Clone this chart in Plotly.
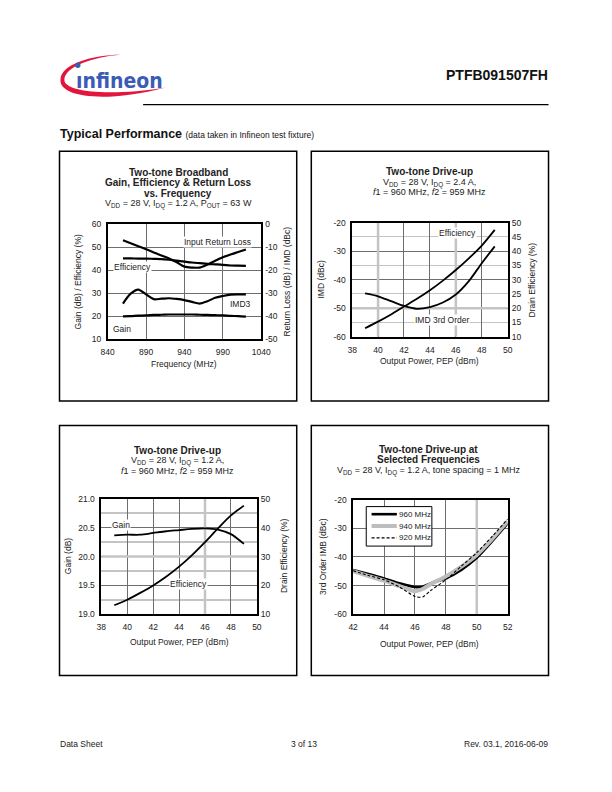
import plotly.graph_objects as go

W, H = 612, 792
FONT = "Liberation Sans, Arial, sans-serif"
GRID_DARK = "#6e6e6e"
GRID_LIGHT = "#c4c4c4"

# ---- panel 1: broadband vs frequency ----
freq_mhz = [860, 870, 880, 890, 900, 910, 920, 930, 940, 950, 960, 970, 980, 990, 1000, 1010, 1020]
bb_gain_db = [19.9, 20.0, 20.2, 20.3, 20.5, 20.6, 20.7, 20.7, 20.7, 20.7, 20.6, 20.5, 20.4, 20.3, 20.1, 20.0, 19.8]
bb_eff_pct = [45.2, 45.2, 45.1, 45.1, 45.0, 44.9, 44.6, 44.2, 43.8, 43.4, 43.1, 42.8, 42.6, 42.4, 42.1, 42.0, 41.9]
bb_irl_db = [-6.9, -8.2, -9.5, -10.8, -12.2, -13.5, -14.8, -16.5, -18.4, -18.8, -18.8, -17.5, -15.8, -14.3, -13.1, -12.0, -10.9]
bb_imd3_dbc = [-34.5, -30.2, -28.4, -30.5, -32.6, -32.4, -32.2, -32.5, -33.0, -33.8, -34.5, -33.5, -32.0, -31.2, -30.6, -30.5, -30.5]
rl_ticks = [0, -10, -20, -30, -40, -50]

# ---- panel 2: drive-up, IDQ = 2.4 A ----
pout_a = [39, 40, 41, 42, 43, 44, 45, 46, 47, 48, 49]
du_a_eff_pct = [13.0, 15.3, 17.8, 20.6, 23.3, 26.3, 29.7, 33.4, 37.5, 42.0, 47.5]
du_a_imd_dbc = [-44.8, -45.8, -47.5, -49.2, -50.2, -49.6, -48.0, -45.2, -40.5, -34.2, -28.3]
imd_ticks = [-20, -30, -40, -50, -60]

# ---- panel 3: drive-up, IDQ = 1.2 A ----
pout_b = [39, 40, 41, 42, 43, 44, 45, 46, 47, 48, 49]
du_b_gain_db = [20.37, 20.38, 20.38, 20.41, 20.44, 20.46, 20.48, 20.49, 20.47, 20.39, 20.22]
du_b_eff_pct = [13.1, 15.0, 17.4, 20.0, 23.0, 26.5, 30.5, 35.0, 39.8, 44.3, 47.7]

# ---- panel 4: IMD at selected frequencies ----
pout_c = [42, 43, 44, 45, 46, 46.5, 47, 48, 49, 50, 51, 52]
imd_960 = [-44.6, -46.0, -47.5, -49.2, -50.5, -50.4, -49.3, -47.5, -44.5, -40.3, -34.5, -28.3]
imd_940 = [-45.0, -46.7, -48.3, -50.2, -52.0, -51.2, -49.5, -46.8, -43.4, -39.3, -33.7, -27.5]
imd_920 = [-44.8, -46.5, -48.0, -50.5, -53.8, -54.0, -51.8, -48.0, -43.2, -38.5, -32.8, -26.8]
tone_labels = ["960 MHz", "940 MHz", "920 MHz"]


def px(x):
    return x / W


def py(y):
    return 1 - y / H


def dom_x(a, b):
    return [px(a), px(b)]


def dom_y(top, bottom):
    return [py(bottom), py(top)]


def hyphen_ticks(vals):
    # datasheet uses a plain hyphen rather than a unicode minus
    return dict(tickmode="array", tickvals=vals, ticktext=[str(v) for v in vals])


TICK_FONT = dict(family=FONT, size=8.5, color="#222")


def xaxis(domain, rng, dtick, anchor):
    return dict(domain=domain, range=rng, dtick=dtick, tick0=rng[0], anchor=anchor,
                showline=True, mirror=True, linecolor="black", linewidth=1.5,
                showgrid=True, gridcolor=GRID_DARK, gridwidth=1, zeroline=False,
                ticks="", tickfont=TICK_FONT, ticklabelstandoff=4)


def yaxis(domain, rng, dtick, anchor, **kw):
    d = dict(domain=domain, range=rng, dtick=dtick, anchor=anchor,
             showline=True, mirror=True, linecolor="black", linewidth=1.5,
             showgrid=True, gridcolor=GRID_DARK, gridwidth=1, zeroline=False,
             ticks="", tickfont=TICK_FONT, ticklabelstandoff=3)
    d.update(kw)
    return d


def yaxis_right(rng, dtick, anchor, overlay, **kw):
    d = dict(range=rng, dtick=dtick, anchor=anchor, overlaying=overlay, side="right",
             showline=False, showgrid=False, zeroline=False, ticks="",
             tickfont=TICK_FONT, ticklabelstandoff=3)
    d.update(kw)
    return d


BLACK = dict(color="black", width=2.2, shape="spline", smoothing=0.8)
THIN = dict(color="black", width=1.8, shape="spline", smoothing=0.8)
TONE_LINES = [dict(color="black", width=2.6, shape="spline", smoothing=0.6),
              dict(color="#bdbdbd", width=4, shape="spline", smoothing=0.6),
              dict(color="black", width=1.1, dash="3px,2px", shape="spline", smoothing=0.6)]

fig = go.Figure()

# panel 1
for ys, ax in [(bb_gain_db, "y"), (bb_eff_pct, "y"), (bb_irl_db, "y2"), (bb_imd3_dbc, "y2")]:
    fig.add_trace(go.Scatter(x=freq_mhz, y=ys, xaxis="x", yaxis=ax, line=BLACK, mode="lines"))

# panel 2
fig.add_trace(go.Scatter(x=pout_a, y=du_a_imd_dbc, xaxis="x2", yaxis="y3", line=THIN, mode="lines"))
fig.add_trace(go.Scatter(x=pout_a, y=du_a_eff_pct, xaxis="x2", yaxis="y4", line=THIN, mode="lines"))

# panel 3
fig.add_trace(go.Scatter(x=pout_b, y=du_b_gain_db, xaxis="x3", yaxis="y5", line=THIN, mode="lines"))
fig.add_trace(go.Scatter(x=pout_b, y=du_b_eff_pct, xaxis="x3", yaxis="y6", line=THIN, mode="lines"))

# panel 4
for ys, name, ln in zip([imd_960, imd_940, imd_920], tone_labels, TONE_LINES):
    fig.add_trace(go.Scatter(x=pout_c, y=ys, xaxis="x4", yaxis="y7", mode="lines", name=name, line=ln))

fig.update_layout(
    width=W, height=H, autosize=False, showlegend=False,
    margin=dict(l=0, r=0, t=0, b=0),
    paper_bgcolor="white", plot_bgcolor="white",
    font=dict(family=FONT, color="#222"),
    xaxis=xaxis(dom_x(103.5, 261.5), [840, 1040], 50, "y"),
    yaxis=yaxis(dom_y(222.3, 338.3), [10, 60], 10, "x"),
    yaxis2=yaxis_right([-50, 0], 10, "x", "y", **hyphen_ticks(rl_ticks)),
    xaxis2=xaxis(dom_x(355, 515), [38, 50], 2, "y3"),
    yaxis3=yaxis(dom_y(220.5, 336), [-60, -20], 10, "x2", **hyphen_ticks(imd_ticks),
                 minor=dict(dtick=5, tick0=-60, showgrid=True, gridcolor=GRID_LIGHT, gridwidth=1, ticks="")),
    yaxis4=yaxis_right([10, 50], 5, "x2", "y3"),
    xaxis3=xaxis(dom_x(97, 257), [38, 50], 2, "y5"),
    yaxis5=yaxis(dom_y(500.3, 617), [19, 21], 0.5, "x3", tickformat=".1f",
                 minor=dict(dtick=0.25, showgrid=True, gridcolor=GRID_LIGHT, gridwidth=1.5, ticks="")),
    yaxis6=yaxis_right([10, 50], 10, "x3", "y5"),
    xaxis4=xaxis(dom_x(356, 515), [42, 52], 2, "y7"),
    yaxis7=yaxis(dom_y(501, 617), [-60, -20], 10, "x4", **hyphen_ticks(imd_ticks)),
)

shapes = []
annotations = []


def text(x, y, s, size=9, bold=False, anchor="center", angle=0, bg=None, color="#222"):
    a = dict(x=px(x), y=py(y), xref="paper", yref="paper", text=f"<b>{s}</b>" if bold else s,
             showarrow=False, xanchor=anchor, yanchor="middle", textangle=angle,
             font=dict(family=FONT, size=size, color=color), borderpad=0)
    if bg:
        a["bgcolor"] = bg
    annotations.append(a)


def rect(x0, y0, x1, y1, width=1.5, fill=None):
    s = dict(type="rect", xref="paper", yref="paper", x0=px(x0), x1=px(x1),
             y0=py(y1), y1=py(y0), line=dict(color="black", width=width))
    if fill:
        s["fillcolor"] = fill
    shapes.append(s)


def hline(x0, x1, y, width=1.2, line=None):
    shapes.append(dict(type="line", xref="paper", yref="paper", x0=px(x0), x1=px(x1),
                       y0=py(y), y1=py(y), line=line or dict(color="black", width=width)))


LIGHT = dict(color=GRID_LIGHT, width=2.5)


def light_v(xref, yref, val, ylim):
    shapes.append(dict(type="line", xref=xref, yref=yref, x0=val, x1=val, y0=ylim[0], y1=ylim[1],
                       layer="between", line=LIGHT))


def light_h(xref, yref, val, xlim):
    shapes.append(dict(type="line", xref=xref, yref=yref, x0=xlim[0], x1=xlim[1], y0=val, y1=val,
                       layer="between", line=LIGHT))


# highlighted light-gray grid lines
light_v("x2", "y3", 40, [-60, -20])
light_v("x2", "y3", 46, [-60, -20])
light_h("x2", "y3", -50, [38, 50])
light_v("x3", "y5", 46, [19, 21])
light_h("x3", "y5", 20.0, [38, 50])
light_v("x4", "y7", 50, [-60, -20])

# ---- page header ----
def path(*segs):
    out = []
    for seg in segs:
        cmd, pts = seg[0], seg[1:]
        out.append(cmd + " " + " ".join(f"{px(x):.5f},{py(y):.5f}" for x, y in pts))
    return " ".join(out) + " Z"


swoosh = path(("M", (117, 50.5)),
              ("C", (88, 50.5), (55, 60), (55, 76)),
              ("C", (54, 93), (100, 100), (163, 83.5)),
              ("C", (105, 93), (59, 88), (59, 76)),
              ("C", (59, 63), (88, 52.5), (117, 50.5)))
shapes.append(dict(type="path", xref="paper", yref="paper", path=swoosh,
                   fillcolor="#e2163d", line=dict(width=0)))
shapes.append(dict(type="circle", xref="paper", yref="paper", x0=px(70), x1=px(75.6),
                   y0=py(63.8), y1=py(58.2), fillcolor="#3b5bb5", line=dict(width=0)))
annotations.append(dict(x=px(69), y=py(77), xref="paper", yref="paper", text="<b>ınfineon</b>",
                        showarrow=False, xanchor="left", yanchor="middle",
                        font=dict(family="Liberation Sans Narrow, DejaVu Sans Condensed, sans-serif",
                                  size=21, color="#3b5bb5")))

text(557, 71, "PTFB091507FH", size=14, bold=True, anchor="right", color="#111")
hline(140, 557, 101, width=1.2)
text(53, 131, "<b>Typical Performance</b> <span style='font-size:8.5px'>(data taken in Infineon test fixture)</span>",
     size=12.5, anchor="left", color="#111")

# panel frames
rect(54, 148, 298, 401)
rect(313, 148, 557, 401)
rect(54, 426, 298, 679)
rect(313, 426, 557, 679)

# ---- panel 1 texts ----
text(176, 169.5, "Two-tone Broadband", size=10, bold=True)
text(176, 180, "Gain, Efficiency &amp; Return Loss", size=10, bold=True)
text(176, 190.5, "vs. Frequency", size=10, bold=True)
text(176, 201.5, "V<sub>DD</sub> = 28 V, I<sub>DQ</sub> = 1.2 A, P<sub>OUT</sub> = 63 W", size=9)
text(73, 280, "Gain (dB) / Efficiency (%)", size=8.5, angle=-90)
text(288, 280, "Return Loss (dB) / IMD (dBc)", size=8.5, angle=-90)
text(182.5, 364, "Frequency (MHz)", size=8.5)
text(217, 240, "Input Return Loss", size=8.5, bg="white")
text(129, 265.5, "Efficiency", size=8.5, bg="white")
text(240, 302.5, "IMD3", size=8.5, bg="white")
text(118.5, 328, "Gain", size=8.5, bg="white")

# ---- panel 2 texts ----
text(435, 169, "Two-tone Drive-up", size=10, bold=True)
text(435, 180, "V<sub>DD</sub> = 28 V, I<sub>DQ</sub> = 2.4 A,", size=9)
text(435, 189.5, "<i>f</i>1 = 960 MHz, <i>f</i>2 = 959 MHz", size=9)
text(323, 278, "IMD (dBc)", size=8.5, angle=-90)
text(541, 278, "Drain Efficiency (%)", size=8.5, angle=-90)
text(435, 361, "Output Power, PEP (dBm)", size=8.5)
text(463, 230.5, "Efficiency", size=8.5, bg="white")
text(447, 319, "IMD 3rd Order", size=8.5, bg="white")

# ---- panel 3 texts ----
text(175, 451.5, "Two-tone Drive-up", size=10, bold=True)
text(175, 461.5, "V<sub>DD</sub> = 28 V, I<sub>DQ</sub> = 1.2 A,", size=9)
text(175, 471.5, "<i>f</i>1 = 960 MHz, <i>f</i>2 = 959 MHz", size=9)
text(63, 558, "Gain (dB)", size=8.5, angle=-90)
text(285, 558, "Drain Efficiency (%)", size=8.5, angle=-90)
text(177, 645, "Output Power, PEP (dBm)", size=8.5)
text(117, 526.5, "Gain", size=8.5, bg="white")
text(187, 586.5, "Efficiency", size=8.5, bg="white")

# ---- panel 4 texts ----
text(434, 450, "Two-tone Drive-up at", size=10, bold=True)
text(434, 460, "Selected Frequencies", size=10, bold=True)
text(434, 471.5, "V<sub>DD</sub> = 28 V, I<sub>DQ</sub> = 1.2 A, tone spacing = 1 MHz", size=9)
text(325, 558, "3rd Order IMB (dBc)", size=8.5, angle=-90)
text(435, 647, "Output Power, PEP (dBm)", size=8.5)

# legend box for panel 4
rect(369.5, 508, 437, 548, width=1, fill="white")
for i, (name, ln) in enumerate(zip(tone_labels, TONE_LINES)):
    yy = 515.7 + i * 12
    hline(375, 401, yy, line=dict(color=ln["color"], width=ln["width"], dash=ln.get("dash", "solid")))
    text(402, yy, name, size=8, anchor="left")

# ---- footer ----
text(53, 748, "Data Sheet", size=8.5, anchor="left")
text(305, 748, "3 of 13", size=8.5)
text(557, 748, "Rev. 03.1, 2016-06-09", size=8.5, anchor="right")

fig.update_layout(shapes=shapes, annotations=annotations)
fig.write_html("out.html", config={"displayModeBar": False},
               post_script="document.body.style.margin='0';document.body.style.overflow='hidden';")
